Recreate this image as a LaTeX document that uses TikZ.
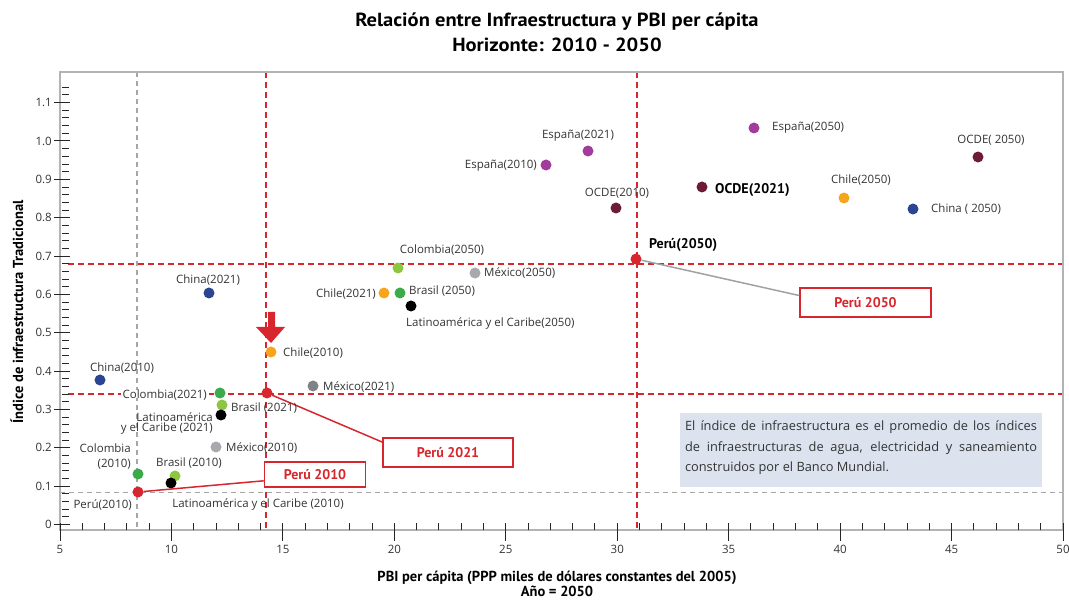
\documentclass[tikz,border=0pt]{standalone}
\usepackage{fontspec}
\setmainfont{Open Sans}
\newfontfamily\pts{PT Sans}
\newfontfamily\ptsw{PT Sans}[FakeStretch=1.08]
\usetikzlibrary{calc}
\definecolor{pred}{HTML}{D7262E}
\definecolor{cblue}{HTML}{2B4593}
\definecolor{cgreen}{HTML}{3BAA4A}
\definecolor{cygreen}{HTML}{8DC641}
\definecolor{corange}{HTML}{F8A51E}
\definecolor{cpurple}{HTML}{A33B9C}
\definecolor{cmaroon}{HTML}{6E1B35}
\definecolor{clgray}{HTML}{A8A9AC}
\definecolor{cdgray}{HTML}{818285}
\definecolor{framegray}{HTML}{B3B3B3}
\definecolor{dashgray}{HTML}{A6A6A6}
\definecolor{boxfill}{HTML}{DCE3EF}
\definecolor{txt}{HTML}{333333}
\begin{document}
\begin{tikzpicture}[x=1pt,y=-1pt,
  dot/.style={circle,inner sep=0pt,minimum size=11pt},
  lbl/.style={inner sep=0pt,text=txt,font=\fontsize{11.5}{13}\selectfont,text height=8.2pt,text depth=0pt},
  lblm/.style={inner sep=0pt,text=txt,font=\fontsize{11.5}{13}\selectfont},
  blbl/.style={inner sep=0pt,text=black,font=\pts\bfseries\fontsize{14}{16}\selectfont,text height=9.6pt,text depth=0pt},
  callout/.style={draw=pred,line width=1.5pt,fill=white,text=pred,font=\pts\bfseries\fontsize{14}{16}\selectfont,inner sep=0pt},
  rdash/.style={draw=pred,line width=1.5pt,dash pattern=on 6pt off 4pt},
  gdash/.style={draw=dashgray,line width=1.2pt,dash pattern=on 5pt off 4pt},
  tickc/.style={draw=black!85,line width=1pt},
  ticklbl/.style={inner sep=0pt,text=txt,font=\fontsize{11.5}{13}\selectfont},
  axtitle/.style={inner sep=0pt,text=black,font=\pts\bfseries\fontsize{14.5}{15.5}\selectfont,align=center},
  conn/.style={line width=1.5pt}
]
\useasboundingbox (0,0) rectangle (1069,601);
% title
\node[inner sep=0pt,font=\ptsw\bfseries\fontsize{19}{25}\selectfont,align=center] (title) at (557,32) {Relación entre Infraestructura y PBI per cápita\\Horizonte: 2010 - 2050};
% reference lines
\draw[gdash] (137,72) -- (137,530);
\draw[gdash] (60,492.5) -- (1063,492.5);
\draw[rdash] (266,72) -- (266,530);
\draw[rdash] (637,72) -- (637,530);
\draw[rdash] (68,264) -- (1063,264);
\draw[rdash] (68,394) -- (1063,394);
% frame
\draw[framegray,line width=1.5pt] (60,72) rectangle (1063,530);
% x ticks
\foreach \v in {6,...,49}{\draw[tickc] ({60+(\v-5)*22.29},530) -- ({60+(\v-5)*22.29},523);}
\foreach \v in {5,10,...,50}{\draw[tickc] ({60+(\v-5)*22.29},541) -- ({60+(\v-5)*22.29},523);
  \node[ticklbl] (xl\v) at ({60+(\v-5)*22.29},549) {\v};}
% y ticks
\foreach \i in {1,...,57}{\draw[tickc] (62,{524.5-\i*7.67}) -- (69,{524.5-\i*7.67});}
\foreach \i/\t in {0/0,1/0.1,2/0.2,3/0.3,4/0.4,5/0.5,6/0.6,7/0.7,8/0.8,9/0.9,10/1.0,11/1.1}{
  \draw[tickc] (54,{524.5-\i*38.35}) -- (70,{524.5-\i*38.35});
  \node[ticklbl,anchor=east] (yl\i) at (52,{524.5-\i*38.35}) {\t};}
% axis titles
\node[axtitle] (xtitle) at (557,584) {PBI per cápita (PPP miles de dólares constantes del 2005)\\Año = 2050};
\node[axtitle,rotate=90] (ytitle) at (17,312) {Índice de infraestructura Tradicional};
% arrow
\fill[pred] (268,312) -- (275,312) -- (275,327) -- (285,327) -- (271,343) -- (256,327) -- (268,327) -- cycle;
% callouts
\node[callout,minimum width=131pt,minimum height=29pt] (box50) at (865.5,302.5) {Perú 2050};
\node[callout,minimum width=130pt,minimum height=29pt] (box21) at (448,452.5) {Perú 2021};
\node[callout,minimum width=101pt,minimum height=25pt] (box10) at (315,474.5) {Perú 2010};
% dots
\node[dot,fill=cblue] (china10) at (100,380) {};
\node[dot,fill=cgreen] (col21) at (220,393) {};
\node[dot,fill=cygreen] (bra21) at (222,405) {};
\node[dot,fill=black] (lac21) at (221,415) {};
\node[dot,fill=clgray] (mex10) at (216,447) {};
\node[dot,fill=cgreen] (col10) at (138,474) {};
\node[dot,fill=cygreen] (bra10) at (175,476) {};
\node[dot,fill=black] (lac10) at (171,483) {};
\node[dot,fill=pred] (peru10) at (138,492) {};
\node[dot,fill=corange] (chile10) at (271,352) {};
\node[dot,fill=cdgray] (mex21) at (313,386) {};
\node[dot,fill=pred] (peru21) at (267,393) {};
\node[dot,fill=cblue] (china21) at (209,293) {};
\node[dot,fill=corange] (chile21) at (384,293) {};
\node[dot,fill=cgreen] (bra50) at (400,293) {};
\node[dot,fill=cygreen] (col50) at (398,268) {};
\node[dot,fill=clgray] (mex50) at (475,273) {};
\node[dot,fill=black] (lac50) at (411,306) {};
\node[dot,fill=cpurple] (esp10) at (546,165) {};
\node[dot,fill=cpurple] (esp21) at (588,151) {};
\node[dot,fill=cmaroon] (ocde10) at (616,208) {};
\node[dot,fill=cmaroon] (ocde21) at (702,187) {};
\node[dot,fill=pred] (peru50) at (636,259) {};
\node[dot,fill=cpurple] (esp50) at (754,128) {};
\node[dot,fill=cmaroon] (ocde50) at (978,157) {};
\node[dot,fill=corange] (chile50) at (844,198) {};
\node[dot,fill=cblue] (china50) at (913,209) {};
% connectors
\draw[conn,framegray!90!black] (peru50) -- (box50.174);
\draw[conn,pred] (peru21) -- (box21.171);
\draw[conn,pred] (peru10) -- (box10.187);
% labels
\node[lbl] (lchina10) at (122,367) {China(2010)};
\node[lbl,anchor=east,fill=white,inner xsep=2pt] (lcol21) at (209,394) {Colombia(2021)};
\node[lbl,anchor=west] (lbra21) at (231,407) {Brasil (2021)};
\node[lblm,anchor=north east,align=right] (llac21) at (213,412) {Latinoamérica\\[-2.5pt]y el Caribe (2021)};
\node[lbl,anchor=west] (lmex10) at (226,447) {México(2010)};
\node[lblm,anchor=north east,align=right] (lcol10) at (131,444) {Colombia\\[1.5pt](2010)};
\node[lbl] (lbra10) at (189,462) {Brasil (2010)};
\node[lbl] (llac10) at (258,503) {Latinoamérica y el Caribe (2010)};
\node[lbl,anchor=east] (lperu10) at (132,504) {Perú(2010)};
\node[lbl,anchor=west] (lchile10) at (283,352) {Chile(2010)};
\node[lbl,anchor=west] (lmex21) at (323,386) {México(2021)};
\node[lbl] (lchina21) at (208,279) {China(2021)};
\node[lbl,anchor=east] (lchile21) at (376,293) {Chile(2021)};
\node[lbl,anchor=west] (lbra50) at (409,290) {Brasil (2050)};
\node[lbl] (lcol50) at (442,249) {Colombia(2050)};
\node[lbl,anchor=west] (lmex50) at (484,272) {México(2050)};
\node[lbl,anchor=west] (llac50) at (406,322) {Latinoamérica y el Caribe(2050)};
\node[lbl,anchor=east] (lesp10) at (537,164) {España(2010)};
\node[lbl] (lesp21) at (578,134) {España(2021)};
\node[lbl] (locde10) at (617,192) {OCDE(2010)};
\node[blbl,anchor=west] (locde21) at (715,189) {OCDE(2021)};
\node[blbl,anchor=west] (lperu50) at (649,244) {Perú(2050)};
\node[lbl,anchor=west] (lesp50) at (772,126) {España(2050)};
\node[lbl] (locde50) at (991,139) {OCDE( 2050)};
\node[lbl] (lchile50) at (861,179) {Chile(2050)};
\node[lbl,anchor=west] (lchina50) at (931,208) {China ( 2050)};
% info box
\node[fill=boxfill,minimum width=362pt,minimum height=74pt,inner sep=0pt] (infobg) at (861,450) {};
\node[inner sep=0pt,text width=352pt,align=justify,text=txt,font=\fontsize{12.8}{20.5}\selectfont] (info) at (861,448) {El índice de infraestructura es el promedio de los índices\linebreak de infraestructuras de agua, electricidad y saneamiento\linebreak construidos por el Banco Mundial.};
\end{tikzpicture}
\end{document}
